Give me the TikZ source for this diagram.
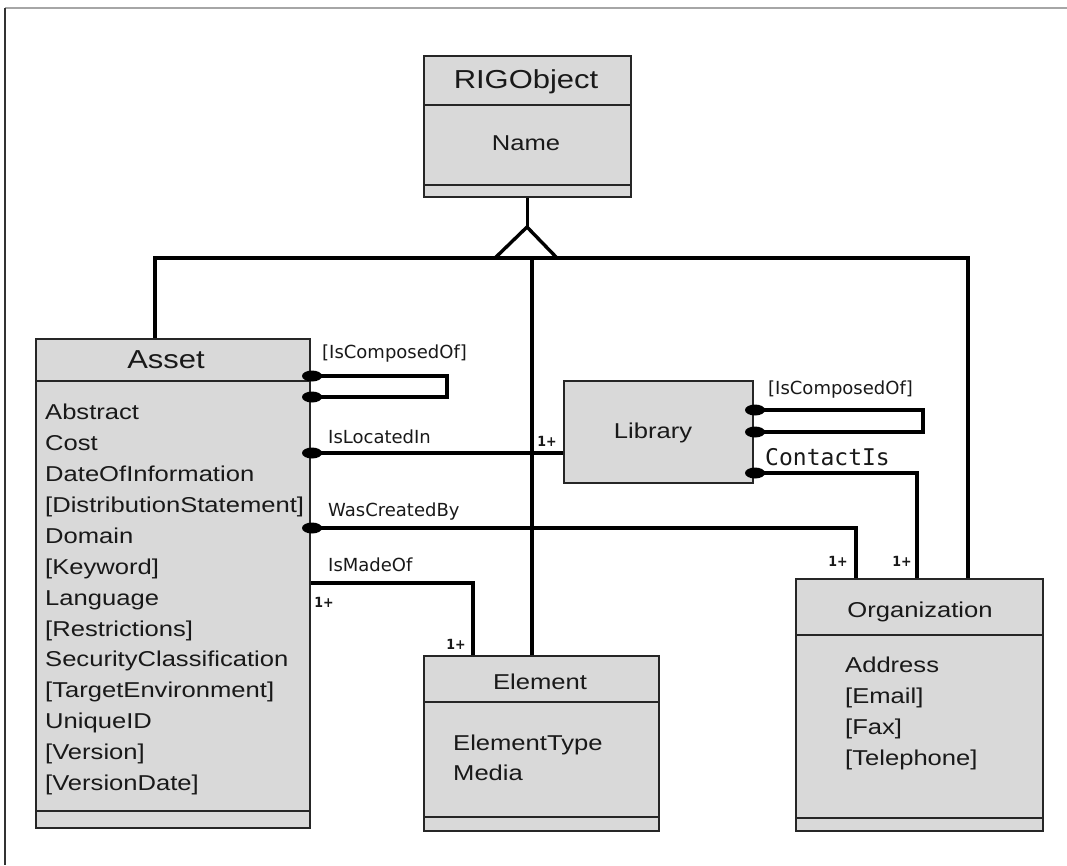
\documentclass[tikz,border=0pt]{standalone}
\usepackage{fontspec}
\setmainfont{Liberation Sans}[FakeStretch=1.19]
\newfontfamily\lblfont{DejaVu Sans}
\newfontfamily\monofont{DejaVu Sans Mono}
\newfontfamily\multfont{DejaVu Sans Condensed Bold}
\usetikzlibrary{shapes.geometric}
\begin{document}
\begin{tikzpicture}[x=1pt,y=-1pt,
  cls/.style={draw=black!85, fill=gray!30, line width=2.2pt, inner sep=0pt, anchor=north west},
  sepline/.style={draw=black!85, line width=2.2pt},
  conn/.style={line width=3.4pt, black},
  hdr/.style={font=\fontsize{26}{30}\selectfont, text=black!90, inner sep=0pt},
  hdrs/.style={font=\fontsize{21.5}{30}\selectfont, text=black!90, inner sep=0pt},
  attr/.style={font=\fontsize{21.5}{30}\selectfont, anchor=west, text height=15.4pt, text depth=0pt, inner sep=0pt, text=black!90},
  lbl/.style={font=\lblfont\fontsize{18}{20}\selectfont, anchor=west, inner sep=0pt, text=black!90},
  mlbl/.style={font=\monofont\fontsize{23}{25}\selectfont, anchor=west, inner sep=0pt, text=black!90},
  mult/.style={font=\multfont\fontsize{14}{16}\selectfont, inner sep=0pt, text=black!90},
  dotn/.style={ellipse, fill=black, minimum width=20pt, minimum height=11pt, inner sep=0pt}]
\useasboundingbox (0,0) rectangle (1067,865);
\fill[white] (0,0) rectangle (1067,865);
% frame
\coordinate (fTL) at (5,8);
\coordinate (fTR) at (1067,8);
\coordinate (fBL) at (5,865);
\draw[gray!70, line width=1.5pt] (fTL) -- (fTR);
\draw[black!80, line width=2pt] (fTL) -- (fBL);

% classes
\node[cls, minimum width=207pt, minimum height=141pt] (rig) at (423,55) {};
\draw[sepline] (rig.west |- 0,105) -- (rig.east |- 0,105);
\draw[sepline] (rig.west |- 0,185) -- (rig.east |- 0,185);
\node[hdr] (rigT) at (526,82) {RIGObject};
\node[hdrs] (rigN) at (526,143) {Name};

\node[cls, minimum width=274pt, minimum height=489pt] (asset) at (35,338) {};
\draw[sepline] (asset.west |- 0,381) -- (asset.east |- 0,381);
\draw[sepline] (asset.west |- 0,811) -- (asset.east |- 0,811);
\node[hdr] (assetT) at (166,360) {Asset};
\foreach \t [count=\i from 0] in {Abstract, Cost, DateOfInformation, {[DistributionStatement]}, Domain, {[Keyword]}, Language, {[Restrictions]}, SecurityClassification, {[TargetEnvironment]}, UniqueID, {[Version]}, {[VersionDate]}}
  \node[attr] (aa\i) at (45,412+30.9*\i) {\t};

\node[cls, minimum width=189pt, minimum height=102pt] (lib) at (563,380) {};
\node[hdrs] (libT) at (653,433) {Library};

\node[cls, minimum width=235pt, minimum height=175pt] (elem) at (423,655) {};
\draw[sepline] (elem.west |- 0,702) -- (elem.east |- 0,702);
\draw[sepline] (elem.west |- 0,817) -- (elem.east |- 0,817);
\node[hdrs] (elemT) at (540,682) {Element};
\node[attr] (ea0) at (453,743) {ElementType};
\node[attr] (ea1) at (453,773) {Media};

\node[cls, minimum width=247pt, minimum height=252pt] (org) at (795,578) {};
\draw[sepline] (org.west |- 0,635) -- (org.east |- 0,635);
\draw[sepline] (org.west |- 0,818) -- (org.east |- 0,818);
\node[hdrs] (orgT) at (920,612) {Organization};
\node[attr] (oa0) at (845,665) {Address};
\node[attr] (oa1) at (845,696) {[Email]};
\node[attr] (oa2) at (845,727) {[Fax]};
\node[attr] (oa3) at (845,758) {[Telephone]};

% generalization
\coordinate (apex) at (527,227);
\coordinate (triL) at (495,258);
\coordinate (triR) at (557,258);
\coordinate (gA) at (155,258);
\coordinate (gO) at (968,258);
\coordinate (gE) at (532,258);
\draw[conn] (rig.south) -- (rig.south |- apex);
\draw[conn, line join=miter] (triL) -- (apex) -- (triR);
\draw[conn] (gA |- asset.north) -- (gA) -- (gO) -- (gO |- org.north);
\draw[conn] (gE) -- (gE |- elem.north);

% associations
\coordinate (aloop) at (447,0);
\coordinate (lloop) at (923,0);
\coordinate (wcb) at (856,0);
\coordinate (imo) at (473,0);
\coordinate (cti) at (917,0);
\draw[conn] (asset.east |- 0,376) -- (aloop |- 0,376) -- (aloop |- 0,397) -- (asset.east |- 0,397);
\draw[conn] (asset.east |- 0,453) -- (lib.west |- 0,453);
\draw[conn] (asset.east |- 0,528) -- (wcb |- 0,528) -- (wcb |- org.north);
\draw[conn] (asset.east |- 0,583) -- (imo |- 0,583) -- (imo |- elem.north);
\draw[conn] (lib.east |- 0,410) -- (lloop |- 0,410) -- (lloop |- 0,432) -- (lib.east |- 0,432);
\draw[conn] (lib.east |- 0,473) -- (cti |- 0,473) -- (cti |- org.north);

% end dots
\node[dotn] (dA1) at (312,376) {};
\node[dotn] (dA2) at (312,397) {};
\node[dotn] (dA3) at (312,453) {};
\node[dotn] (dA4) at (312,528) {};
\node[dotn] (dL1) at (755,410) {};
\node[dotn] (dL2) at (755,432) {};
\node[dotn] (dL3) at (755,473) {};

% labels
\node[lbl] (l1) at (322,354) {[IsComposedOf]};
\node[lbl] (l2) at (328,437) {IsLocatedIn};
\node[lbl] (l3) at (328,512) {WasCreatedBy};
\node[lbl] (l4) at (328,565) {IsMadeOf};
\node[lbl] (l5) at (768,390) {[IsComposedOf]};
\node[mlbl] (l6) at (765,457) {ContactIs};
\node[mult] (m1) at (547,441) {1+};
\node[mult] (m2) at (324,602) {1+};
\node[mult] (m3) at (456,644) {1+};
\node[mult] (m4) at (838,561) {1+};
\node[mult] (m5) at (902,561) {1+};
\end{tikzpicture}
\end{document}
